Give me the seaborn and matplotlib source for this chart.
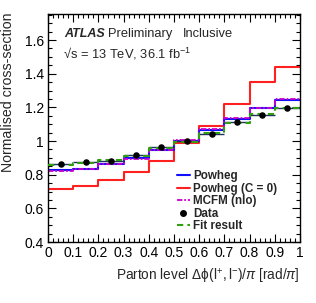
import numpy as np
import pandas as pd
import matplotlib
matplotlib.use("Agg")
import matplotlib.pyplot as plt
import seaborn as sns
from matplotlib.lines import Line2D
from matplotlib.ticker import MultipleLocator, FuncFormatter

# ---- data ----
bin_edges = [0.0, 0.1, 0.2, 0.3, 0.4, 0.5, 0.6, 0.7, 0.8, 0.9, 1.0]
bin_centers = [0.05, 0.15, 0.25, 0.35, 0.45, 0.55, 0.65, 0.75, 0.85, 0.95]
powheg = [0.827, 0.835, 0.865, 0.897, 0.945, 1.002, 1.067, 1.129, 1.195, 1.244]
powheg_c0 = [0.716, 0.732, 0.766, 0.814, 0.883, 0.986, 1.091, 1.220, 1.351, 1.442]
mcfm = [0.824, 0.833, 0.862, 0.895, 0.946, 1.005, 1.071, 1.134, 1.199, 1.248]
data = [0.863, 0.875, 0.879, 0.917, 0.964, 1.002, 1.042, 1.113, 1.157, 1.195]
fit = [0.858, 0.871, 0.887, 0.913, 0.960, 0.992, 1.050, 1.109, 1.159, 1.195]

sns.set_style("ticks")
plt.rcParams['font.family'] = ['Liberation Sans', 'DejaVu Sans']
plt.rcParams['mathtext.fontset'] = 'custom'
plt.rcParams['mathtext.rm'] = 'Liberation Sans'
plt.rcParams['mathtext.it'] = 'Liberation Sans:italic'
plt.rcParams['mathtext.bf'] = 'Liberation Sans:bold'

fig = plt.figure(figsize=(3.16, 3.03), dpi=100)
ax = fig.add_axes([48/316, 1-242/303, 252/316, 228/303])

def step_df(vals):
    return pd.DataFrame({"x": bin_edges, "y": list(vals) + [vals[-1]]})

sns.lineplot(data=step_df(powheg_c0), x="x", y="y", ax=ax, color="#ff2020",
             lw=1.5, drawstyle="steps-post", estimator=None, sort=False)
sns.lineplot(data=step_df(powheg), x="x", y="y", ax=ax, color="#1010ff",
             lw=1.5, drawstyle="steps-post", estimator=None, sort=False)
sns.lineplot(data=step_df(mcfm), x="x", y="y", ax=ax, color="#cc00cc",
             lw=1.3, drawstyle="steps-post", linestyle=(0, (3, 1, 1, 1)),
             estimator=None, sort=False)
# data horizontal bars
ax.hlines(data, bin_edges[:-1], bin_edges[1:], color="#203060", lw=1.0, zorder=4)
sns.lineplot(data=step_df(fit), x="x", y="y", ax=ax, color="#30a010",
             lw=1.5, drawstyle="steps-post", linestyle=(0, (3, 2)),
             estimator=None, sort=False, zorder=5)
sns.scatterplot(x=bin_centers, y=data, ax=ax, color="black", s=22,
                edgecolor="black", linewidth=0, zorder=6)

ax.set_xlim(0, 1)
ax.set_ylim(0.4, 1.755)
ax.xaxis.set_major_locator(MultipleLocator(0.1))
ax.xaxis.set_minor_locator(MultipleLocator(0.02))
ax.yaxis.set_major_locator(MultipleLocator(0.2))
ax.yaxis.set_minor_locator(MultipleLocator(0.05))
fmt = FuncFormatter(lambda v, p: ("%g" % round(v, 3)))
ax.xaxis.set_major_formatter(fmt)
ax.yaxis.set_major_formatter(fmt)
ax.tick_params(which="both", direction="in", top=True, right=True,
               labelsize=10, colors="black", width=0.8)
ax.tick_params(which="major", length=6, pad=3)
ax.tick_params(which="minor", length=3)
for s in ax.spines.values():
    s.set_linewidth(1.0)
    s.set_color("black")

ax.set_xlabel("")
ax.set_ylabel("")
fig.text(8/316, 1-13/303, "Normalised cross-section", rotation=90,
         ha="center", va="top", fontsize=10.2)
fig.text(300/316, 1-277/303,
         r"Parton level $\Delta\mathrm{\phi}(\mathrm{l}^{+},\mathrm{l}^{-})/\pi$ [rad/$\pi$]",
         ha="right", va="center", fontsize=9.8)

ax.text(64/316, 1-34/303, "ATLAS", transform=fig.transFigure, fontsize=9.0,
        fontweight="bold", fontstyle="italic", va="center")
ax.text(108/316, 1-34/303, "Preliminary", transform=fig.transFigure,
        fontsize=9.3, va="center")
ax.text(183/316, 1-34/303, "Inclusive", transform=fig.transFigure,
        fontsize=9.3, va="center")
ax.text(63/316, 1-54/303, "√s = 13 TeV, 36.1 fb$^{-1}$",
        transform=fig.transFigure, fontsize=9.3, va="center")

handles = [
    Line2D([], [], color="#1010ff", lw=1.5),
    Line2D([], [], color="#ff2020", lw=1.5),
    Line2D([], [], color="#cc00cc", lw=1.3, linestyle=(0, (3, 1, 1, 1))),
    Line2D([], [], color="black", marker="o", markersize=4, linestyle="none"),
    Line2D([], [], color="#30a010", lw=1.5, linestyle=(0, (3, 2))),
]
labels = ["Powheg", "Powheg (C = 0)", "MCFM (nlo)", "Data", "Fit result"]
leg = fig.legend(handles, labels, loc="upper left",
                 bbox_to_anchor=(177/316, 1-170/303), frameon=False,
                 prop={"weight": "bold", "size": 8.4}, handlelength=1.1,
                 handletextpad=0.25, labelspacing=0.05, borderpad=0,
                 borderaxespad=0)

fig.savefig("out.png", dpi=100)
